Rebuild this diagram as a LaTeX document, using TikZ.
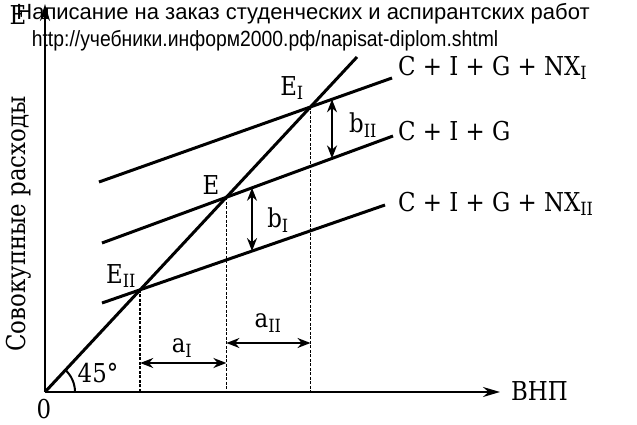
\documentclass[tikz,border=0pt]{standalone}
\usepackage{fontspec}
\setmainfont{DejaVu Serif}
\newfontfamily\wmfont{Liberation Sans}
\usetikzlibrary{arrows.meta}

\begin{document}
\begin{tikzpicture}[x=1pt,y=-1pt,font=\fontsize{26}{30}\selectfont,
  lbl/.style={xscale=0.88},
  curve/.style={line width=3pt},
  axis/.style={line width=2pt,-{Stealth[length=17pt,width=10pt]}},
  guide/.style={line width=1.6pt,dash pattern=on 3pt off 1.5pt},
  span/.style={line width=1.8pt,{Stealth[length=13pt,width=10pt]}-{Stealth[length=13pt,width=10pt]}},
  mark text/.style={font=\wmfont\fontsize{22}{27}\selectfont}]
  \useasboundingbox (0,0) rectangle (637,425);
  \coordinate (O) at (45,392);
  \coordinate (Ytop) at (45,4);
  \coordinate (Xend) at (500,392);
  \coordinate (D) at (357,57);
  \coordinate (EI) at (310.5,106.9);
  \coordinate (E) at (226.4,197.3);
  \coordinate (EII) at (140.2,289.8);

  \draw[axis] (O) -- (Ytop);
  \draw[axis] (O) -- (Xend);
  \node[lbl] (ylab) at (18,15) {E};
  \node[lbl,anchor=west] (xlab) at (508,391) {ВНП};
  \node[lbl,inner sep=0pt] (zero) at (44,409) {0};
  \node[rotate=90] (ytitle) at (19,224) {\scalebox{0.88}[1]{Совокупные расходы}};

  \draw[curve] (O) -- (D);
  \draw[curve] (99,182) coordinate (T1) -- (392,78) coordinate (T2);
  \draw[curve] (102,243) coordinate (M1) -- (393,136) coordinate (M2);
  \draw[curve] (102,303) coordinate (B1) -- (385,205) coordinate (B2);
  \node[lbl,anchor=west] (lblT) at (395,68) {C + I + G + NX\textsubscript{I}};
  \node[lbl,anchor=west] (lblM) at (395,131) {C + I + G};
  \node[lbl,anchor=west] (lblB) at (395,204) {C + I + G + NX\textsubscript{II}};

  \draw[line width=2pt] (75,392) arc[start angle=0,end angle=-47,radius=30];
  \node[lbl] (ang) at (98,373) {45°};

  \draw[guide] (EII) -- (EII |- O);
  \draw[guide] (E) -- (E |- O);
  \draw[guide] (EI) -- (EI |- O);
  \node[lbl] (lEI) at (292,88) {E\textsubscript{I}};
  \node[lbl] (lE) at (211,185) {E};
  \node[lbl] (lEII) at (121,276) {E\textsubscript{II}};

  \coordinate (bIIa) at (332,99.3);
  \coordinate (bIIb) at (332,158.4);
  \coordinate (bIa) at (252,187.8);
  \coordinate (bIb) at (252,251.1);
  \draw[span] (bIIa) -- (bIIb);
  \draw[span] (bIa) -- (bIb);
  \node[lbl] (lbII) at (363,125) {b\textsubscript{II}};
  \node[lbl] (lbI) at (278,220) {b\textsubscript{I}};

  \coordinate (aIa) at (140.2,363);
  \coordinate (aIb) at (226.4,363);
  \coordinate (aIIa) at (226.4,343);
  \coordinate (aIIb) at (310.5,343);
  \draw[span] (aIa) -- (aIb);
  \draw[span] (aIIa) -- (aIIb);
  \node[lbl] (laI) at (182,348) {a\textsubscript{I}};
  \node[lbl] (laII) at (268,323) {a\textsubscript{II}};

  \node[mark text] (wm1) at (303,14)
    {Написание на заказ студенческих и аспирантских работ};
  \node[mark text,lbl] (wm2) at (265,41)
    {http://учебники.информ2000.рф/napisat-diplom.shtml};
\end{tikzpicture}
\end{document}
